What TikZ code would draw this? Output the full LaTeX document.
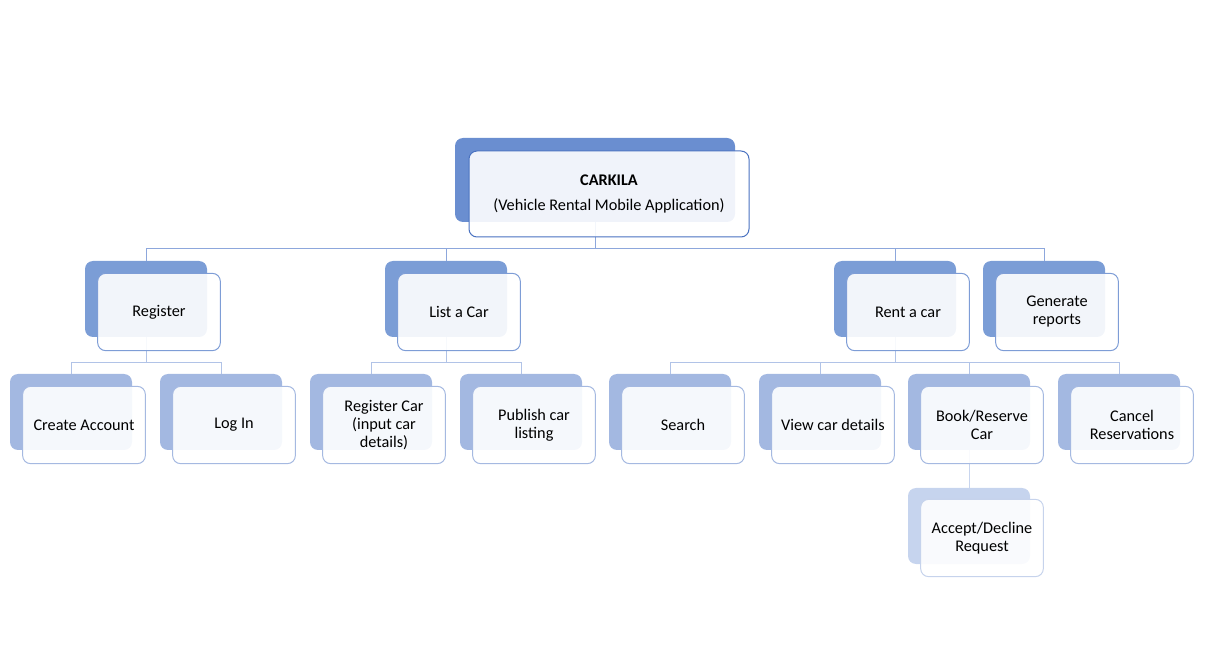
\documentclass[tikz,border=0pt]{standalone}
\usepackage{fontspec}
\setmainfont{Carlito}
\definecolor{rootback}{HTML}{6A8ED0}
\definecolor{rootline}{HTML}{4A72C0}
\definecolor{oneback}{HTML}{7B9DD6}
\definecolor{oneline}{HTML}{7E9DD6}
\definecolor{twoback}{HTML}{A3B8E1}
\definecolor{twoline}{HTML}{A5B9E1}
\definecolor{threeback}{HTML}{C6D4EE}
\definecolor{threeline}{HTML}{C6D3EC}
\definecolor{connA}{HTML}{8DA7DC}
\definecolor{connB}{HTML}{B1C3E7}
\definecolor{connC}{HTML}{C8D5EE}
\tikzset{
  backbox/.style={rectangle, rounded corners=6pt, minimum width=91.5pt, minimum height=57pt, inner sep=0pt},
  frontbox/.style={rectangle, rounded corners=6pt, minimum width=92pt, minimum height=58pt, inner sep=0pt,
     fill=white, fill opacity=0.9, text opacity=1, line width=0.75pt, align=center, font=\fontsize{12.2}{13.5}\selectfont},
  lvA/.style={backbox, fill=rootback, minimum width=210pt, minimum height=63pt},
  lvAf/.style={frontbox, draw=rootline, minimum width=210pt, minimum height=64.5pt},
  lvB/.style={backbox, fill=oneback},
  lvBf/.style={frontbox, draw=oneline},
  lvC/.style={backbox, fill=twoback},
  lvCf/.style={frontbox, draw=twoline},
  lvD/.style={backbox, fill=threeback},
  lvDf/.style={frontbox, draw=threeline},
  conn/.style={line width=0.75pt},
}
\begin{document}
\begin{tikzpicture}[x=0.75pt,y=-0.75pt]
\useasboundingbox (0,0) rectangle (1208,652);
% back boxes
\node[lvA] (rootb) at (595,180) {};
\node[lvB] (regb) at (146,299) {};
\node[lvB] (listb) at (446,299) {};
\node[lvB] (rentb) at (895,299) {};
\node[lvB] (genb) at (1044,299) {};
\node[lvC] (createb) at (71,412) {};
\node[lvC] (loginb) at (221,412) {};
\node[lvC] (regcarb) at (371,412) {};
\node[lvC] (pubb) at (521,412) {};
\node[lvC] (searchb) at (670,412) {};
\node[lvC] (viewb) at (820,412) {};
\node[lvC] (bookb) at (969,412) {};
\node[lvC] (cancelb) at (1119,412) {};
\node[lvD] (acceptb) at (969,526) {};
% connectors
\draw[conn, draw=connA] (rootb.south) -- ++(0,26) -| (regb.north);
\draw[conn, draw=connA] (rootb.south) -- ++(0,26) -| (listb.north);
\draw[conn, draw=connA] (rootb.south) -- ++(0,26) -| (rentb.north);
\draw[conn, draw=connA] (rootb.south) -- ++(0,26) -| (genb.north);
\draw[conn, draw=connB] (regb.south) -- ++(0,25) -| (createb.north);
\draw[conn, draw=connB] (regb.south) -- ++(0,25) -| (loginb.north);
\draw[conn, draw=connB] (listb.south) -- ++(0,25) -| (regcarb.north);
\draw[conn, draw=connB] (listb.south) -- ++(0,25) -| (pubb.north);
\draw[conn, draw=connB] (rentb.south) -- ++(0,25) -| (searchb.north);
\draw[conn, draw=connB] (rentb.south) -- ++(0,25) -| (viewb.north);
\draw[conn, draw=connB] (rentb.south) -- ++(0,25) -| (bookb.north);
\draw[conn, draw=connB] (rentb.south) -- ++(0,25) -| (cancelb.north);
\draw[conn, draw=connC] (bookb.south) -- (acceptb.north);
% front boxes
\node[lvAf] (root) at (609,194) {\textbf{CARKILA}\\[5.25pt](Vehicle Rental Mobile Application)};
\node[lvBf] (reg) at (159,312) {Register};
\node[lvBf] (list) at (459,312) {List a Car};
\node[lvBf] (rent) at (908,312) {Rent a car};
\node[lvBf] (gen) at (1057,312) {Generate\\reports};
\node[lvCf] (create) at (84,425) {Create Account};
\node[lvCf] (login) at (234,425) {Log In};
\node[lvCf] (regcar) at (384,425) {Register Car\\(input car\\details)};
\node[lvCf] (pub) at (534,425) {Publish car\\listing};
\node[lvCf] (search) at (683,425) {Search};
\node[lvCf] (view) at (833,425) {View car details};
\node[lvCf] (book) at (982,425) {Book/Reserve\\Car};
\node[lvCf] (cancel) at (1132,425) {Cancel\\Reservations};
\node[lvDf] (accept) at (982,538) {Accept/Decline\\Request};
\end{tikzpicture}
\end{document}
